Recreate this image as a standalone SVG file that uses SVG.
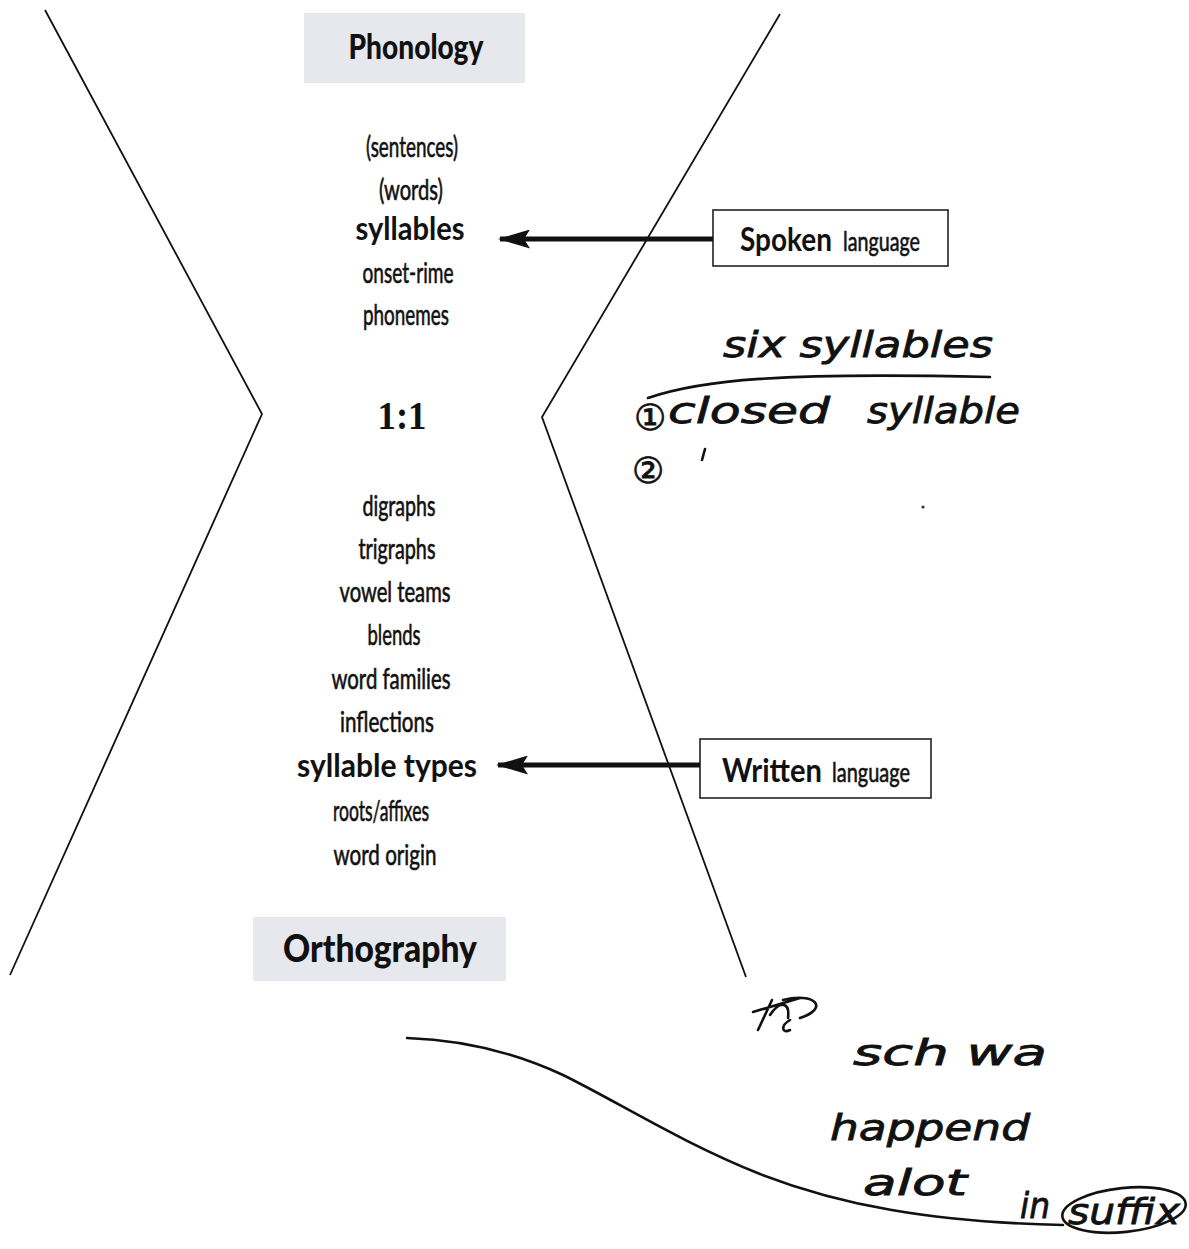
<svg xmlns="http://www.w3.org/2000/svg" width="1189" height="1249" viewBox="0 0 1189 1249">
<defs>
<style>
.t{font-family:Lato,"Liberation Sans",sans-serif;fill:#111;text-anchor:middle}
.r{font-size:28px;stroke:#111;stroke-width:0.6px}
.b{font-size:32px;font-weight:bold}
.hd{font-family:Lato,"Liberation Sans",sans-serif;font-weight:900;fill:#111;text-anchor:middle}
.lb{font-family:Lato,"Liberation Sans",sans-serif;fill:#111}
.lr{stroke:#111;stroke-width:0.6px}
.hbox{fill:#e6e8ee}
.box{fill:#fff;stroke:#222;stroke-width:1.6}
.edge{stroke:#111;stroke-width:5;fill:none}
.frame{stroke:#111;stroke-width:1.8;fill:none}
.hw{font-family:"DejaVu Sans",sans-serif;font-style:oblique;fill:#111;font-size:36px;stroke:#111;stroke-width:0.8px}
.ink{stroke:#111;stroke-width:2.6;fill:none;stroke-linecap:round}
</style>
<marker id="ah" markerWidth="6.4" markerHeight="3.8" refX="6" refY="1.9" orient="auto" markerUnits="strokeWidth">
<path d="M0,0 L6.4,1.9 L0,3.8 L1.2,1.9 Z" fill="#111"/>
</marker>
</defs>
<rect width="1189" height="1249" fill="#fff"/>

<g id="frame">
<path class="frame" d="M45,10 L262,414 L10,975"/>
<path class="frame" d="M780,14 L542,417 L746,977"/>
</g>

<g id="phonology">
<rect class="hbox" x="304" y="13" width="221" height="70"/>
<text class="hd" x="416" y="59" font-size="34" textLength="135" lengthAdjust="spacingAndGlyphs">Phonology</text>
</g>

<g id="phon-list">
<text class="t r" x="412" y="157" textLength="92" lengthAdjust="spacingAndGlyphs">(sentences)</text>
<text class="t r" x="411" y="200" textLength="64" lengthAdjust="spacingAndGlyphs">(words)</text>
<text class="t b" x="410" y="240" textLength="109" lengthAdjust="spacingAndGlyphs">syllables</text>
<text class="t r" x="408" y="283" textLength="91" lengthAdjust="spacingAndGlyphs">onset-rime</text>
<text class="t r" x="406" y="325" textLength="86" lengthAdjust="spacingAndGlyphs">phonemes</text>
</g>

<g id="ratio">
<text x="402" y="429" font-family="Liberation Serif,serif" font-size="40" font-weight="bold" text-anchor="middle" fill="#111" textLength="49" lengthAdjust="spacingAndGlyphs">1:1</text>
</g>

<g id="ortho-list">
<text class="t r" x="399" y="516" textLength="73" lengthAdjust="spacingAndGlyphs">digraphs</text>
<text class="t r" x="397" y="559" textLength="77" lengthAdjust="spacingAndGlyphs">trigraphs</text>
<text class="t r" x="395" y="602" textLength="111" lengthAdjust="spacingAndGlyphs">vowel teams</text>
<text class="t r" x="394" y="645" textLength="53" lengthAdjust="spacingAndGlyphs">blends</text>
<text class="t r" x="391" y="689" textLength="119" lengthAdjust="spacingAndGlyphs">word families</text>
<text class="t r" x="387" y="732" textLength="94" lengthAdjust="spacingAndGlyphs">inflections</text>
<text class="t b" x="387" y="777" textLength="180" lengthAdjust="spacingAndGlyphs">syllable types</text>
<text class="t r" x="381" y="821" textLength="96" lengthAdjust="spacingAndGlyphs">roots/affixes</text>
<text class="t r" x="385" y="865" textLength="103" lengthAdjust="spacingAndGlyphs">word origin</text>
</g>

<g id="orthography">
<rect class="hbox" x="253" y="917" width="253" height="64"/>
<text class="hd" x="380" y="962" font-size="37" textLength="194" lengthAdjust="spacingAndGlyphs">Orthography</text>
</g>

<g id="spoken">
<rect class="box" x="713" y="210" width="235" height="56"/>
<text class="lb" x="740" y="251" font-size="32" font-weight="bold" textLength="92" lengthAdjust="spacingAndGlyphs">Spoken</text>
<text class="lb lr" x="843" y="251" font-size="27" textLength="77" lengthAdjust="spacingAndGlyphs">language</text>
</g>

<g id="written">
<rect class="box" x="700" y="739" width="231" height="59"/>
<text class="lb" x="722" y="782" font-size="32" font-weight="bold" textLength="100" lengthAdjust="spacingAndGlyphs">Written</text>
<text class="lb lr" x="832" y="782" font-size="27" textLength="78" lengthAdjust="spacingAndGlyphs">language</text>
</g>

<g id="connectors">
<line class="edge" x1="713" y1="239" x2="500" y2="239" marker-end="url(#ah)"/>
<line class="edge" x1="700" y1="765" x2="498" y2="765" marker-end="url(#ah)"/>
</g>

<g id="notes-top">
<text class="hw" x="723" y="357" textLength="270" lengthAdjust="spacingAndGlyphs">six syllables</text>
<path class="ink" d="M648,398 C700,380 780,372 990,377"/>
<text class="hw" x="634" y="430" font-size="30">①</text>
<text class="hw" x="668" y="423" textLength="162" lengthAdjust="spacingAndGlyphs">closed</text>
<text class="hw" x="867" y="423" textLength="153" lengthAdjust="spacingAndGlyphs">syllable</text>
<text class="hw" x="632" y="483" font-size="32">②</text>
<path class="ink" d="M705,449 L702,460"/>
<circle cx="923" cy="507" r="1.6" fill="#333"/>
</g>

<g id="notes-bottom">
<path class="ink" d="M753,1012 L800,998 M758,1030 L772,1000 M770,1015 C780,1000 790,1002 788,1018 M783,1000 C815,992 830,1008 800,1018 M790,1020 C780,1026 782,1034 790,1030"/>
<text class="hw" x="853" y="1065" textLength="194" lengthAdjust="spacingAndGlyphs">sch wa</text>
<text class="hw" x="830" y="1140" textLength="200" lengthAdjust="spacingAndGlyphs">happend</text>
<text class="hw" x="863" y="1195" textLength="104" lengthAdjust="spacingAndGlyphs">alot</text>
<text class="hw" x="1020" y="1218" font-size="32" textLength="30" lengthAdjust="spacingAndGlyphs">in</text>
<text class="hw" x="1068" y="1224" font-size="30" textLength="112" lengthAdjust="spacingAndGlyphs">suffix</text>
<ellipse cx="1124" cy="1210" rx="62" ry="22" transform="rotate(-6 1124 1210)" class="ink" stroke-width="2.2"/>
<path class="ink" d="M407,1038 C470,1040 520,1055 563,1075 C620,1103 680,1142 760,1174 C840,1205 930,1222 1063,1225"/>
</g>
</svg>
